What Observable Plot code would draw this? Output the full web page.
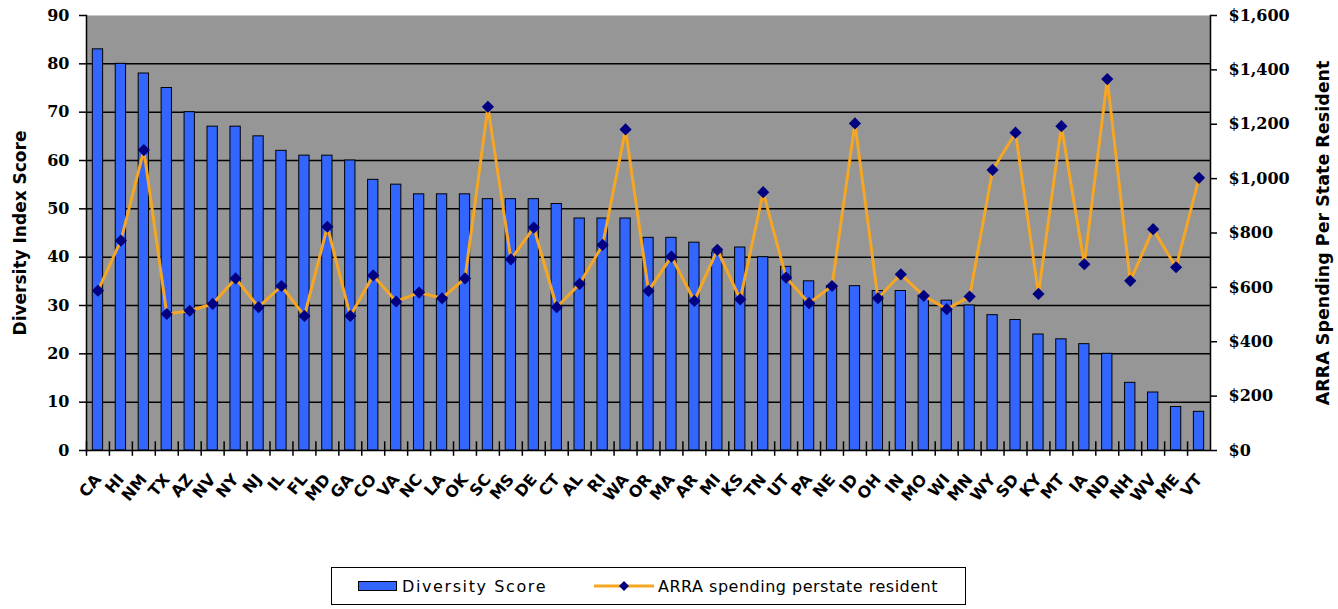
<!DOCTYPE html>
<html><head><meta charset="utf-8">
<script src="https://cdn.jsdelivr.net/npm/d3@7"></script>
<script src="https://cdn.jsdelivr.net/npm/@observablehq/plot@0.6"></script>
<style>
body{margin:0;background:#fff;}
#wrap{position:relative;width:1338px;height:609px;overflow:hidden;}
#legend{position:absolute;left:331px;top:567px;width:635px;height:38px;border:1.5px solid #000;box-sizing:border-box;background:#fff;font-family:"DejaVu Sans",sans-serif;font-size:16px;letter-spacing:0.5px;color:#000;}
#legend .it{position:absolute;top:0;height:100%;display:flex;align-items:center;}
#legend .sw{display:inline-block;width:39px;height:10px;background:#3366ff;border:1.5px solid #000;box-sizing:border-box;margin-right:5px;}
</style></head><body><div id="wrap"><div id="chart"></div>
<div id="legend">
  <div class="it" style="left:26px"><span class="sw"></span><span style="letter-spacing:1.6px">Diversity Score</span></div>
  <div class="it" style="left:262px"><svg width="60" height="14" style="margin-right:4px"><line x1="0" y1="7" x2="60" y2="7" stroke="#f5a623" stroke-width="3"/><path d="M30,2 L35,7 L30,12 L25,7 Z" fill="#000080"/></svg><span>ARRA spending perstate resident</span></div>
</div></div>
<script>
const states = ["CA","HI","NM","TX","AZ","NV","NY","NJ","IL","FL","MD","GA","CO","VA","NC","LA","OK","SC","MS","DE","CT","AL","RI","WA","OR","MA","AR","MI","KS","TN","UT","PA","NE","ID","OH","IN","MO","WI","MN","WY","SD","KY","MT","IA","ND","NH","WV","ME","VT"];
const diversity = [83,80,78,75,70,67,67,65,62,61,61,60,56,55,53,53,53,52,52,52,51,48,48,48,44,44,43,41,42,40,38,35,34,34,33,33,32,31,30,28,27,24,23,22,20,14,12,9,8];
const spending = [588,772,1105,502,514,539,633,527,605,495,823,495,644,548,581,560,633,1264,703,820,527,613,756,1181,587,713,550,738,556,950,636,542,605,1203,560,648,569,520,566,1032,1169,576,1193,685,1366,624,814,674,1003];
const leftTicks = [0,10,20,30,40,50,60,70,80,90];
const rightTicks = [0,200,400,600,800,1000,1200,1400,1600];
const gridLines = [10,20,30,40,50,60,70,80];
const leftTitle = "Diversity Index Score";
const rightTitle = "ARRA Spending Per State Resident";

const ratio = 90 / 1600; // right-axis dollars mapped onto the left scale
const data = states.map((s, i) => ({state: s, diversity: diversity[i], spending: spending[i]}));
const W = 1338, ML = 86, MR = 128;
const step = (W - ML - MR) / states.length;

const chart = Plot.plot({
  width: W, height: 555,
  marginLeft: ML, marginRight: MR, marginTop: 15, marginBottom: 105,
  style: {background: "white", fontFamily: "DejaVu Sans", color: "#000", overflow: "visible"},
  x: {domain: states, paddingInner: 0.55, paddingOuter: 0.275, axis: null},
  y: {domain: [0, 90]},
  marks: [
    Plot.frame({fill: "#969696", stroke: null}),
    Plot.ruleY(gridLines, {stroke: "#000", strokeWidth: 1.5}),
    Plot.barY(data, {x: "state", y: "diversity", fill: "#3366ff", stroke: "#000", strokeWidth: 1}),
    Plot.line(data, {x: "state", y: d => d.spending * ratio, stroke: "#f5a623", strokeWidth: 3}),
    Plot.dot(data, {x: "state", y: d => d.spending * ratio, symbol: "diamond2", r: 5.5, fill: "#000080", stroke: "none"}),
    Plot.ruleY([0], {stroke: "#000", strokeWidth: 1.5}),
    Plot.frame({anchor: "left", stroke: "#000", strokeWidth: 1.5}),
    Plot.frame({anchor: "right", stroke: "#000", strokeWidth: 1.5}),
    Plot.ruleX(states, {x: d => d, y1: -1.2, y2: 1.8, dx: -step / 2, stroke: "#000", strokeWidth: 1.5}),
    Plot.axisY(leftTicks, {anchor: "left", tickSize: 7, tickPadding: 10, fontSize: 16, fontWeight: "bold", fontFamily: "DejaVu Serif", label: null, strokeWidth: 1.5}),
    Plot.axisY(rightTicks.map(d => d * ratio), {anchor: "right", tickSize: 6, tickPadding: 12, fontSize: 16, fontWeight: "bold", fontFamily: "DejaVu Serif", label: null, strokeWidth: 1.5,
      tickFormat: d => "$" + d3.format(",")(Math.round(d / ratio))}),
    Plot.text(states, {x: d => d, frameAnchor: "bottom", dy: 26, rotate: -50, textAnchor: "end", lineAnchor: "middle", fontSize: 16, fontWeight: "bold", fill: "#000"}),
    Plot.text([leftTitle], {frameAnchor: "left", rotate: -90, dx: -66, textAnchor: "middle", fontSize: 17, fontWeight: "bold", fill: "#000"}),
    Plot.text([rightTitle], {frameAnchor: "right", rotate: -90, dx: 113, textAnchor: "middle", fontSize: 17.5, fontWeight: "bold", fill: "#000"})
  ]
});
document.getElementById("chart").appendChild(chart);
</script></body></html>
